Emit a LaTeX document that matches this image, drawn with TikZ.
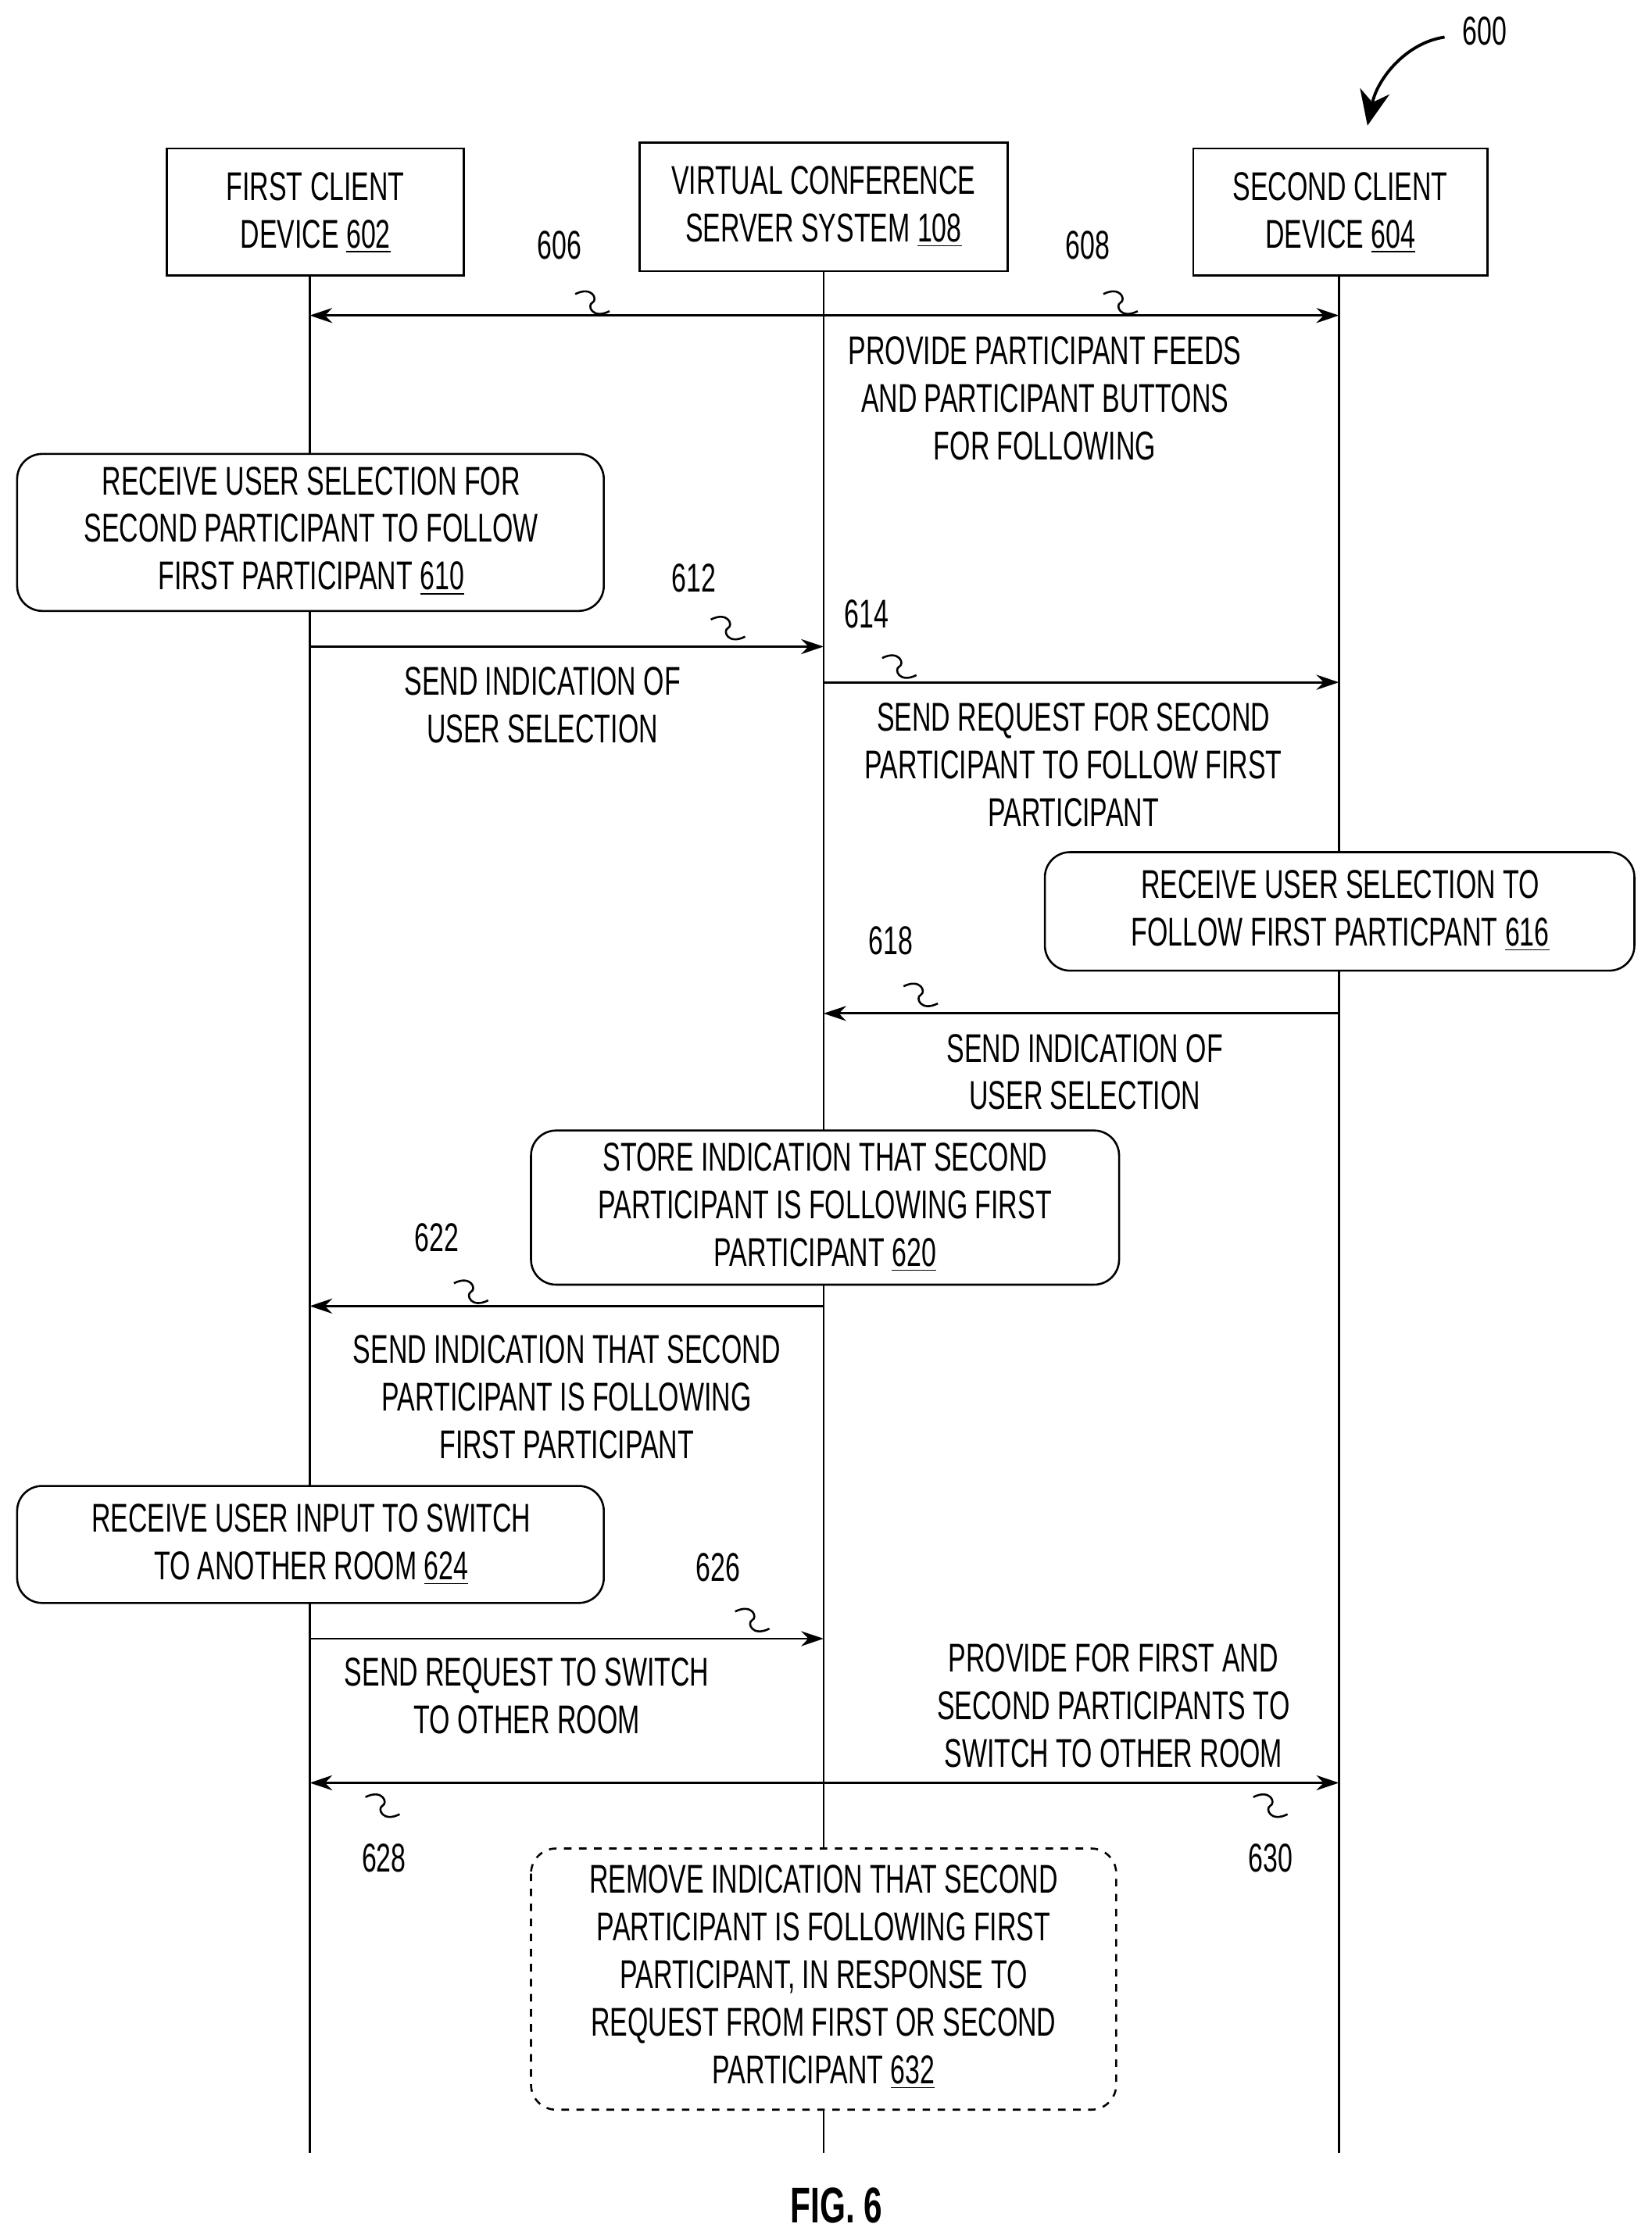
\documentclass[tikz,border=0pt]{standalone}
\usepackage{fontspec}
\setmainfont{Liberation Sans}[FakeStretch=0.66]
\usetikzlibrary{arrows.meta}
\begin{document}
\begin{tikzpicture}[x=0.02cm,y=-0.02cm,
  every node/.style={font=\fontsize{16}{18}\selectfont},
  txt/.style={align=center,inner sep=0pt},
  box/.style={draw,line width=0.8pt},
  rbox/.style={draw,line width=0.8pt,rounded corners=10pt},
  life/.style={line width=0.9pt},
  msg/.style={line width=0.9pt,-{Stealth[length=9pt,width=6pt]}},
  dmsg/.style={line width=0.9pt,{Stealth[length=9pt,width=6pt]}-{Stealth[length=9pt,width=6pt]}},
  sq/.style={line width=0.8pt}]
\useasboundingbox (0,0) rectangle (1157,1563);
\newcommand{\squig}[2]{\draw[sq] (#1-12,#2-6) .. controls (#1,#2-12) and (#1+4,#2-2) .. (#1,#2) .. controls (#1-4,#2+2) and (#1,#2+12) .. (#1+12,#2+6);}
\draw[box] (117,104) rectangle (325,193); \node[txt] (h1) at (221,149) {FIRST CLIENT\\[1pt]DEVICE \underline{602}};
\draw[box] (448,100) rectangle (706,190); \node[txt] (h2) at (577,145) {VIRTUAL CONFERENCE\\[1pt]SERVER SYSTEM \underline{108}};
\draw[box] (836,104) rectangle (1042,193); \node[txt] (h3) at (939,149) {SECOND CLIENT\\[1pt]DEVICE \underline{604}};
\coordinate (a0) at (217,193); \coordinate (a1) at (217,1508);
\coordinate (b0) at (577,190); \coordinate (b1) at (577,1508);
\coordinate (c0) at (938,193); \coordinate (c1) at (938,1508);
\draw[life] (a0)--(a1); \draw[life] (b0)--(b1); \draw[life] (c0)--(c1);
\coordinate (p1) at (217,221); \coordinate (p2) at (938,221);
\draw[dmsg] (p1)--(p2);
\node (n606) at (392,172) {606}; \squig{415}{212}
\node (n608) at (762,172) {608}; \squig{785}{212}
\node[txt] (t1) at (732,279) {PROVIDE PARTICIPANT FEEDS\\[1pt]AND PARTICIPANT BUTTONS\\[1pt]FOR FOLLOWING};
\draw[rbox,fill=white] (12,318) rectangle (423,428);
\node[txt] (b610) at (218,372) {RECEIVE USER SELECTION FOR\\[1pt]SECOND PARTICIPANT TO FOLLOW\\[1pt]FIRST PARTICIPANT \underline{610}};
\coordinate (q1) at (217,453); \coordinate (q2) at (577,453);
\draw[msg] (q1)--(q2);
\node (n612) at (486,405) {612}; \squig{510}{440}
\node[txt] (t612) at (380,494) {SEND INDICATION OF\\[1pt]USER SELECTION};
\coordinate (r1) at (577,478); \coordinate (r2) at (938,478);
\draw[msg] (r1)--(r2);
\node (n614) at (607,430) {614}; \squig{630}{467}
\node[txt] (t614) at (752,536) {SEND REQUEST FOR SECOND\\[1pt]PARTICIPANT TO FOLLOW FIRST\\[1pt]PARTICIPANT};
\draw[rbox,fill=white] (732,597) rectangle (1145,680);
\node[txt] (b616) at (939,638) {RECEIVE USER SELECTION TO\\[1pt]FOLLOW FIRST PARTICPANT \underline{616}};
\coordinate (s1) at (938,710); \coordinate (s2) at (577,710);
\draw[msg] (s1)--(s2);
\node (n618) at (624,659) {618}; \squig{645}{697}
\node[txt] (t618) at (760,751) {SEND INDICATION OF\\[1pt]USER SELECTION};
\draw[rbox,fill=white] (372,792) rectangle (784,900);
\node[txt] (b620) at (578,846) {STORE INDICATION THAT SECOND\\[1pt]PARTICIPANT IS FOLLOWING FIRST\\[1pt]PARTICIPANT \underline{620}};
\coordinate (u1) at (577,915); \coordinate (u2) at (217,915);
\draw[msg] (u1)--(u2);
\node (n622) at (306,867) {622}; \squig{330}{905}
\node[txt] (t622) at (397,979) {SEND INDICATION THAT SECOND\\[1pt]PARTICIPANT IS FOLLOWING\\[1pt]FIRST PARTICIPANT};
\draw[rbox,fill=white] (12,1041) rectangle (423,1123);
\node[txt] (b624) at (218,1082) {RECEIVE USER INPUT TO SWITCH\\[1pt]TO ANOTHER ROOM \underline{624}};
\coordinate (v1) at (217,1148); \coordinate (v2) at (577,1148);
\draw[msg] (v1)--(v2);
\node (n626) at (503,1098) {626}; \squig{527}{1135}
\node[txt] (t626) at (369,1188) {SEND REQUEST TO SWITCH\\[1pt]TO OTHER ROOM};
\node[txt] (t628) at (780,1195) {PROVIDE FOR FIRST AND\\[1pt]SECOND PARTICIPANTS TO\\[1pt]SWITCH TO OTHER ROOM};
\coordinate (w1) at (217,1249); \coordinate (w2) at (938,1249);
\draw[dmsg] (w1)--(w2);
\node (n628) at (269,1302) {628}; \squig{268}{1265}
\node (n630) at (890,1302) {630}; \squig{890}{1265}
\draw[rbox,dashed,fill=white] (372,1295) rectangle (782,1478);
\node[txt] (b632) at (577,1385) {REMOVE INDICATION THAT SECOND\\[1pt]PARTICIPANT IS FOLLOWING FIRST\\[1pt]PARTICIPANT, IN RESPONSE TO\\[1pt]REQUEST FROM FIRST OR SECOND\\[1pt]PARTICIPANT \underline{632}};
\node (n600) at (1040,22) {600};
\coordinate (k1) at (1012,26); \coordinate (k2) at (958,88);
\draw[line width=1.2pt,-{Stealth[length=14pt,width=12pt]}] (k1) .. controls (985,30) and (965,55) .. (k2);
\node[font=\fontsize{20}{22}\selectfont\bfseries] (fig) at (586,1545) {FIG. 6};
\end{tikzpicture}
\end{document}
